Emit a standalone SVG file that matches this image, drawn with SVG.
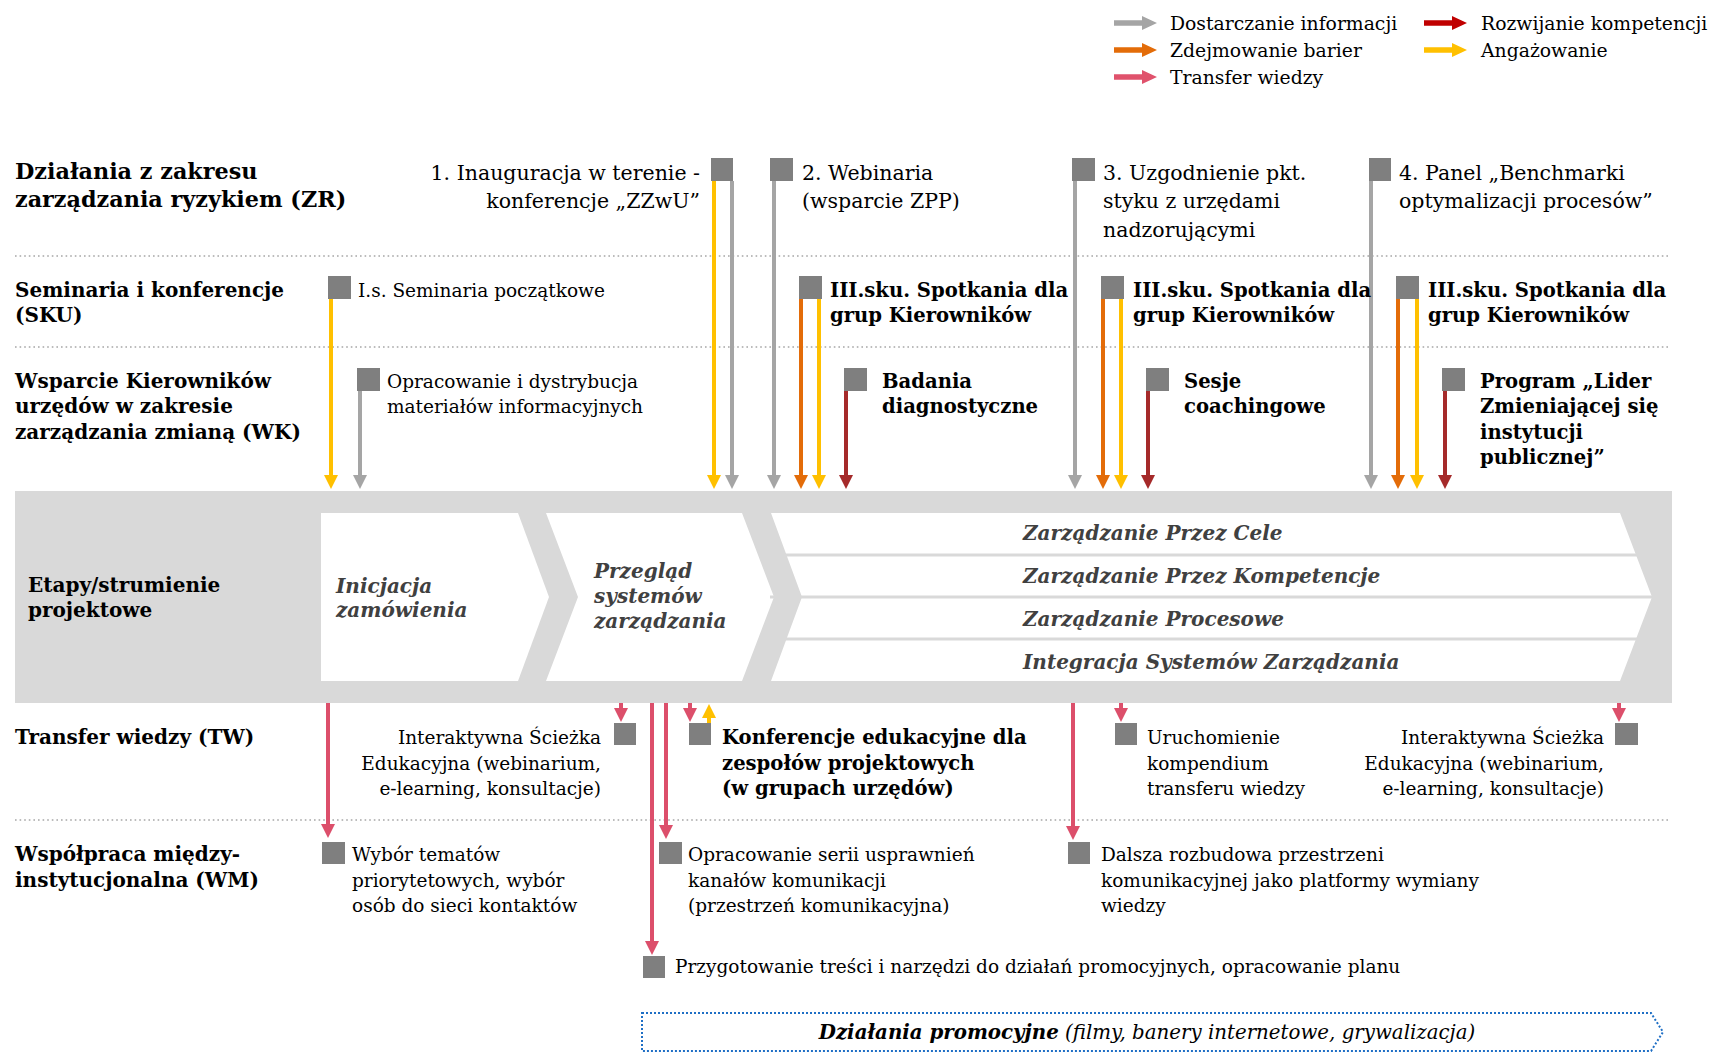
<svg xmlns="http://www.w3.org/2000/svg" xmlns:xlink="http://www.w3.org/1999/xlink" width="1713" height="1052" viewBox="0 0 1713 1052">
<style>
text{font-family:"DejaVu Serif","Liberation Serif",serif;fill:#000}
.t{font-size:18.5px}
.b{font-size:19.6px;font-weight:bold}
.l{font-size:20px;font-weight:bold}
.h{font-size:20.5px}
.hb{font-size:22.3px;font-weight:bold}
.c{font-size:20px;font-weight:bold;font-style:italic;fill:#404040}
.e{text-anchor:end}
.sq{fill:#7f7f7f}
.dot{stroke:#a6a6a6;stroke-width:1.6;stroke-dasharray:1.6 3;fill:none}
.ln{stroke-width:4;fill:none}
.g{stroke:#a5a5a5}.y{stroke:#ffc000}.o{stroke:#e36c09}.r{stroke:#a52a2a}.p{stroke:#dc4f6b}
</style>
<defs>
<path id="la" d="M0,-2.8 H28 V-7 L43,0 L28,7 V2.8 H0 Z"/>
<marker id="mg" viewBox="0 0 14 14" refX="0" refY="7" markerWidth="14" markerHeight="14" markerUnits="userSpaceOnUse" orient="auto"><path d="M0,0 L14,7 L0,14 z" fill="#a5a5a5"/></marker>
<marker id="my" viewBox="0 0 14 14" refX="0" refY="7" markerWidth="14" markerHeight="14" markerUnits="userSpaceOnUse" orient="auto"><path d="M0,0 L14,7 L0,14 z" fill="#ffc000"/></marker>
<marker id="mo" viewBox="0 0 14 14" refX="0" refY="7" markerWidth="14" markerHeight="14" markerUnits="userSpaceOnUse" orient="auto"><path d="M0,0 L14,7 L0,14 z" fill="#e36c09"/></marker>
<marker id="mr" viewBox="0 0 14 14" refX="0" refY="7" markerWidth="14" markerHeight="14" markerUnits="userSpaceOnUse" orient="auto"><path d="M0,0 L14,7 L0,14 z" fill="#a52a2a"/></marker>
<marker id="mp" viewBox="0 0 14 14" refX="0" refY="7" markerWidth="14" markerHeight="14" markerUnits="userSpaceOnUse" orient="auto"><path d="M0,0 L14,7 L0,14 z" fill="#dc4f6b"/></marker>
</defs>
<rect width="1713" height="1052" fill="#fff"/>

<g id="legend">
<use href="#la" x="1114" y="23" fill="#a5a5a5"/>
<use href="#la" x="1114" y="50" fill="#e36c09"/>
<use href="#la" x="1114" y="77" fill="#e0526c"/>
<use href="#la" x="1424" y="23" fill="#c00000"/>
<use href="#la" x="1424" y="50" fill="#ffc000"/>
<text class="t" x="1170" y="30" style="font-size:18.8px">Dostarczanie informacji</text>
<text class="t" x="1170" y="57" style="font-size:18.8px">Zdejmowanie barier</text>
<text class="t" x="1170" y="84" style="font-size:18.8px">Transfer wiedzy</text>
<text class="t" x="1481" y="30" style="font-size:18.8px">Rozwijanie kompetencji</text>
<text class="t" x="1481" y="57" style="font-size:18.8px">Angażowanie</text>
</g>

<g id="grid">
<line class="dot" x1="15" y1="256" x2="1669" y2="256"/>
<line class="dot" x1="15" y1="347" x2="1669" y2="347"/>
<line class="dot" x1="15" y1="820" x2="1669" y2="820"/>
</g>

<g id="row-labels">
<text class="hb" x="15" y="179">Działania z zakresu</text>
<text class="hb" x="15" y="207">zarządzania ryzykiem (ZR)</text>
<text class="l" x="15" y="297">Seminaria i konferencje</text>
<text class="l" x="15" y="322">(SKU)</text>
<text class="l" x="15" y="388">Wsparcie Kierowników</text>
<text class="l" x="15" y="413">urzędów w zakresie</text>
<text class="l" x="15" y="439">zarządzania zmianą (WK)</text>
<text class="l" x="15" y="744">Transfer wiedzy (TW)</text>
<text class="l" x="15" y="861">Współpraca między-</text>
<text class="l" x="15" y="887">instytucjonalna (WM)</text>
</g>

<g id="stages">
<rect x="15" y="491" width="1657" height="212" fill="#d9d9d9"/>
<text class="l" x="28" y="592">Etapy/strumienie</text>
<text class="l" x="28" y="617">projektowe</text>
<g id="stage-inicjacja">
<polygon points="321,513 518,513 549,597 518,681 321,681" fill="#fff"/>
<text class="c" x="336" y="593">Inicjacja</text>
<text class="c" x="336" y="617">zamówienia</text>
</g>
<g id="stage-przeglad">
<polygon points="546,513 742,513 774,597 742,681 546,681 578,597" fill="#fff"/>
<text class="c" x="594" y="578">Przegląd</text>
<text class="c" x="594" y="603">systemów</text>
<text class="c" x="594" y="628">zarządzania</text>
</g>
<g id="stage-streams">
<polygon points="771,513 1620,513 1652,597 1620,681 771,681 802,597" fill="#fff"/>
<line x1="770" y1="555" x2="1660" y2="555" stroke="#d9d9d9" stroke-width="3"/>
<line x1="770" y1="597" x2="1660" y2="597" stroke="#d9d9d9" stroke-width="3"/>
<line x1="770" y1="639" x2="1660" y2="639" stroke="#d9d9d9" stroke-width="3"/>
<text class="c" x="1023" y="540">Zarządzanie Przez Cele</text>
<text class="c" x="1023" y="583">Zarządzanie Przez Kompetencje</text>
<text class="c" x="1023" y="626">Zarządzanie Procesowe</text>
<text class="c" x="1023" y="669">Integracja Systemów Zarządzania</text>
</g>
</g>

<g id="connectors">
<line class="ln y" x1="331" y1="299" x2="331" y2="475" marker-end="url(#my)"/>
<line class="ln g" x1="360" y1="391" x2="360" y2="475" marker-end="url(#mg)"/>
<line class="ln y" x1="714" y1="181" x2="714" y2="475" marker-end="url(#my)"/>
<line class="ln g" x1="732" y1="181" x2="732" y2="475" marker-end="url(#mg)"/>
<line class="ln g" x1="774" y1="181" x2="774" y2="475" marker-end="url(#mg)"/>
<line class="ln o" x1="801" y1="293" x2="801" y2="475" marker-end="url(#mo)"/>
<line class="ln y" x1="819" y1="299" x2="819" y2="475" marker-end="url(#my)"/>
<line class="ln r" x1="846" y1="391" x2="846" y2="475" marker-end="url(#mr)"/>
<line class="ln g" x1="1075" y1="181" x2="1075" y2="475" marker-end="url(#mg)"/>
<line class="ln o" x1="1103" y1="293" x2="1103" y2="475" marker-end="url(#mo)"/>
<line class="ln y" x1="1121" y1="299" x2="1121" y2="475" marker-end="url(#my)"/>
<line class="ln r" x1="1148" y1="391" x2="1148" y2="475" marker-end="url(#mr)"/>
<line class="ln g" x1="1371" y1="181" x2="1371" y2="475" marker-end="url(#mg)"/>
<line class="ln o" x1="1398" y1="293" x2="1398" y2="475" marker-end="url(#mo)"/>
<line class="ln y" x1="1417" y1="299" x2="1417" y2="475" marker-end="url(#my)"/>
<line class="ln r" x1="1445" y1="391" x2="1445" y2="475" marker-end="url(#mr)"/>
<line class="ln p" x1="328" y1="703" x2="328" y2="824" marker-end="url(#mp)"/>
<line class="ln p" x1="621" y1="703" x2="621" y2="708" marker-end="url(#mp)"/>
<line class="ln p" x1="652" y1="703" x2="652" y2="941" marker-end="url(#mp)"/>
<line class="ln p" x1="666" y1="703" x2="666" y2="825" marker-end="url(#mp)"/>
<line class="ln p" x1="690" y1="703" x2="690" y2="708" marker-end="url(#mp)"/>
<line class="ln y" x1="709" y1="723" x2="709" y2="718" marker-end="url(#my)"/>
<line class="ln p" x1="1073" y1="703" x2="1073" y2="826" marker-end="url(#mp)"/>
<line class="ln p" x1="1121" y1="703" x2="1121" y2="708" marker-end="url(#mp)"/>
<line class="ln p" x1="1619" y1="703" x2="1619" y2="708" marker-end="url(#mp)"/>
</g>

<g id="n-inauguracja"><rect class="sq" x="711" y="158" width="22" height="23"/>
<text class="h e" x="700" y="180">1. Inauguracja w terenie -</text>
<text class="h e" x="700" y="208">konferencje „ZZwU”</text></g>
<g id="n-webinaria"><rect class="sq" x="770" y="158" width="23" height="23"/>
<text class="h" x="802" y="180">2. Webinaria</text>
<text class="h" x="802" y="208">(wsparcie ZPP)</text></g>
<g id="n-uzgodnienie"><rect class="sq" x="1072" y="158" width="23" height="23"/>
<text class="h" x="1103" y="180">3. Uzgodnienie pkt.</text>
<text class="h" x="1103" y="208">styku z urzędami</text>
<text class="h" x="1103" y="237">nadzorującymi</text></g>
<g id="n-panel"><rect class="sq" x="1369" y="158" width="22" height="23"/>
<text class="h" x="1399" y="180">4. Panel „Benchmarki</text>
<text class="h" x="1399" y="208">optymalizacji procesów”</text></g>

<g id="n-seminaria"><rect class="sq" x="328" y="276" width="23" height="23"/>
<text class="t" x="358" y="297">I.s. Seminaria początkowe</text></g>
<g id="n-sku1"><rect class="sq" x="799" y="276" width="23" height="23"/>
<text class="b" x="830" y="297">III.sku. Spotkania dla</text>
<text class="b" x="830" y="322">grup Kierowników</text></g>
<g id="n-sku2"><rect class="sq" x="1101" y="276" width="23" height="23"/>
<text class="b" x="1133" y="297">III.sku. Spotkania dla</text>
<text class="b" x="1133" y="322">grup Kierowników</text></g>
<g id="n-sku3"><rect class="sq" x="1396" y="276" width="23" height="23"/>
<text class="b" x="1428" y="297">III.sku. Spotkania dla</text>
<text class="b" x="1428" y="322">grup Kierowników</text></g>

<g id="n-materialy"><rect class="sq" x="357" y="368" width="23" height="23"/>
<text class="t" x="387" y="388">Opracowanie i dystrybucja</text>
<text class="t" x="387" y="413">materiałów informacyjnych</text></g>
<g id="n-badania"><rect class="sq" x="844" y="368" width="23" height="23"/>
<text class="b" x="882" y="388">Badania</text>
<text class="b" x="882" y="413">diagnostyczne</text></g>
<g id="n-sesje"><rect class="sq" x="1146" y="368" width="23" height="23"/>
<text class="b" x="1184" y="388">Sesje</text>
<text class="b" x="1184" y="413">coachingowe</text></g>
<g id="n-program"><rect class="sq" x="1442" y="368" width="23" height="23"/>
<text class="b" x="1480" y="388">Program „Lider</text>
<text class="b" x="1480" y="413">Zmieniającej się</text>
<text class="b" x="1480" y="439">instytucji</text>
<text class="b" x="1480" y="464">publicznej”</text></g>

<g id="n-isciezka1"><rect class="sq" x="614" y="723" width="22" height="22"/>
<text class="t e" x="601" y="744">Interaktywna Ścieżka</text>
<text class="t e" x="601" y="770">Edukacyjna (webinarium,</text>
<text class="t e" x="601" y="795">e-learning, konsultacje)</text></g>
<g id="n-konferencje"><rect class="sq" x="689" y="723" width="22" height="22"/>
<text class="b" x="722" y="744">Konferencje edukacyjne dla</text>
<text class="b" x="722" y="770">zespołów projektowych</text>
<text class="b" x="722" y="795">(w grupach urzędów)</text></g>
<g id="n-kompendium"><rect class="sq" x="1115" y="723" width="22" height="22"/>
<text class="t" x="1147" y="744">Uruchomienie</text>
<text class="t" x="1147" y="770">kompendium</text>
<text class="t" x="1147" y="795">transferu wiedzy</text></g>
<g id="n-isciezka2"><rect class="sq" x="1615" y="723" width="23" height="22"/>
<text class="t e" x="1604" y="744">Interaktywna Ścieżka</text>
<text class="t e" x="1604" y="770">Edukacyjna (webinarium,</text>
<text class="t e" x="1604" y="795">e-learning, konsultacje)</text></g>

<g id="n-wybor"><rect class="sq" x="322" y="842" width="23" height="22"/>
<text class="t" x="352" y="861">Wybór tematów</text>
<text class="t" x="352" y="887">priorytetowych, wybór</text>
<text class="t" x="352" y="912">osób do sieci kontaktów</text></g>
<g id="n-usprawnienia"><rect class="sq" x="659" y="842" width="23" height="22"/>
<text class="t" x="688" y="861">Opracowanie serii usprawnień</text>
<text class="t" x="688" y="887">kanałów komunikacji</text>
<text class="t" x="688" y="912">(przestrzeń komunikacyjna)</text></g>
<g id="n-dalsza"><rect class="sq" x="1068" y="842" width="22" height="22"/>
<text class="t" x="1101" y="861">Dalsza rozbudowa przestrzeni</text>
<text class="t" x="1101" y="887">komunikacyjnej jako platformy wymiany</text>
<text class="t" x="1101" y="912">wiedzy</text></g>
<g id="n-przygotowanie"><rect class="sq" x="643" y="956" width="22" height="22"/>
<text class="t" x="675" y="973">Przygotowanie treści i narzędzi do działań promocyjnych, opracowanie planu</text></g>

<g id="n-promocja">
<path d="M642,1013 H1651 L1663,1032 L1651,1051 H642 Z" fill="none" stroke="#1f6fc5" stroke-width="2" stroke-dasharray="2 2"/>
<text x="1147" y="1039" text-anchor="middle" font-style="italic" style="font-size:19.8px"><tspan font-weight="bold">Działania promocyjne</tspan> (filmy, banery internetowe, grywalizacja)</text>
</g>
</svg>
